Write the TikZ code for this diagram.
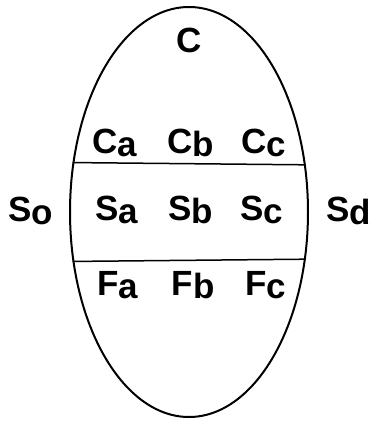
\documentclass[tikz,border=0pt]{standalone}
\usepackage{fontspec}
\setmainfont{Liberation Sans}
\usetikzlibrary{shapes.geometric}
\newcommand{\lbl}[2]{#1\raisebox{-3pt}{#2}}
\begin{document}
\begin{tikzpicture}[x=1pt,y=-1pt,
  lab/.style={font=\bfseries\fontsize{35}{35}\selectfont, anchor=base, inner sep=0pt},
  oval/.style={draw, ellipse, line width=2pt, minimum width=238pt, minimum height=410pt, inner sep=0pt},
  band/.style={line width=1.5pt}]
\useasboundingbox (0,0) rectangle (372,421);
\node[oval] (e) at (189,212) {};
\draw[band] (e.157.5) -- (e.22.5);
\draw[band] (e.-157.5) -- (e.-22.5);
\node[lab] (c) at (189,52) {C};
\node[lab] (ca) at (115,153) {\lbl{C}{a}};
\node[lab] (cb) at (191,153) {\lbl{C}{b}};
\node[lab] (cc) at (264,153) {\lbl{C}{c}};
\node[lab] (sa) at (117,220) {\lbl{S}{a}};
\node[lab] (sb) at (191,220) {\lbl{S}{b}};
\node[lab] (sc) at (262,220) {\lbl{S}{c}};
\node[lab] (fa) at (118,295) {\lbl{F}{a}};
\node[lab] (fb) at (193,295) {\lbl{F}{b}};
\node[lab] (fc) at (266,295) {\lbl{F}{c}};
\node[lab] (so) at (31,221) {\lbl{S}{o}};
\node[lab] (sd) at (349,221) {\lbl{S}{d}};
\end{tikzpicture}
\end{document}
